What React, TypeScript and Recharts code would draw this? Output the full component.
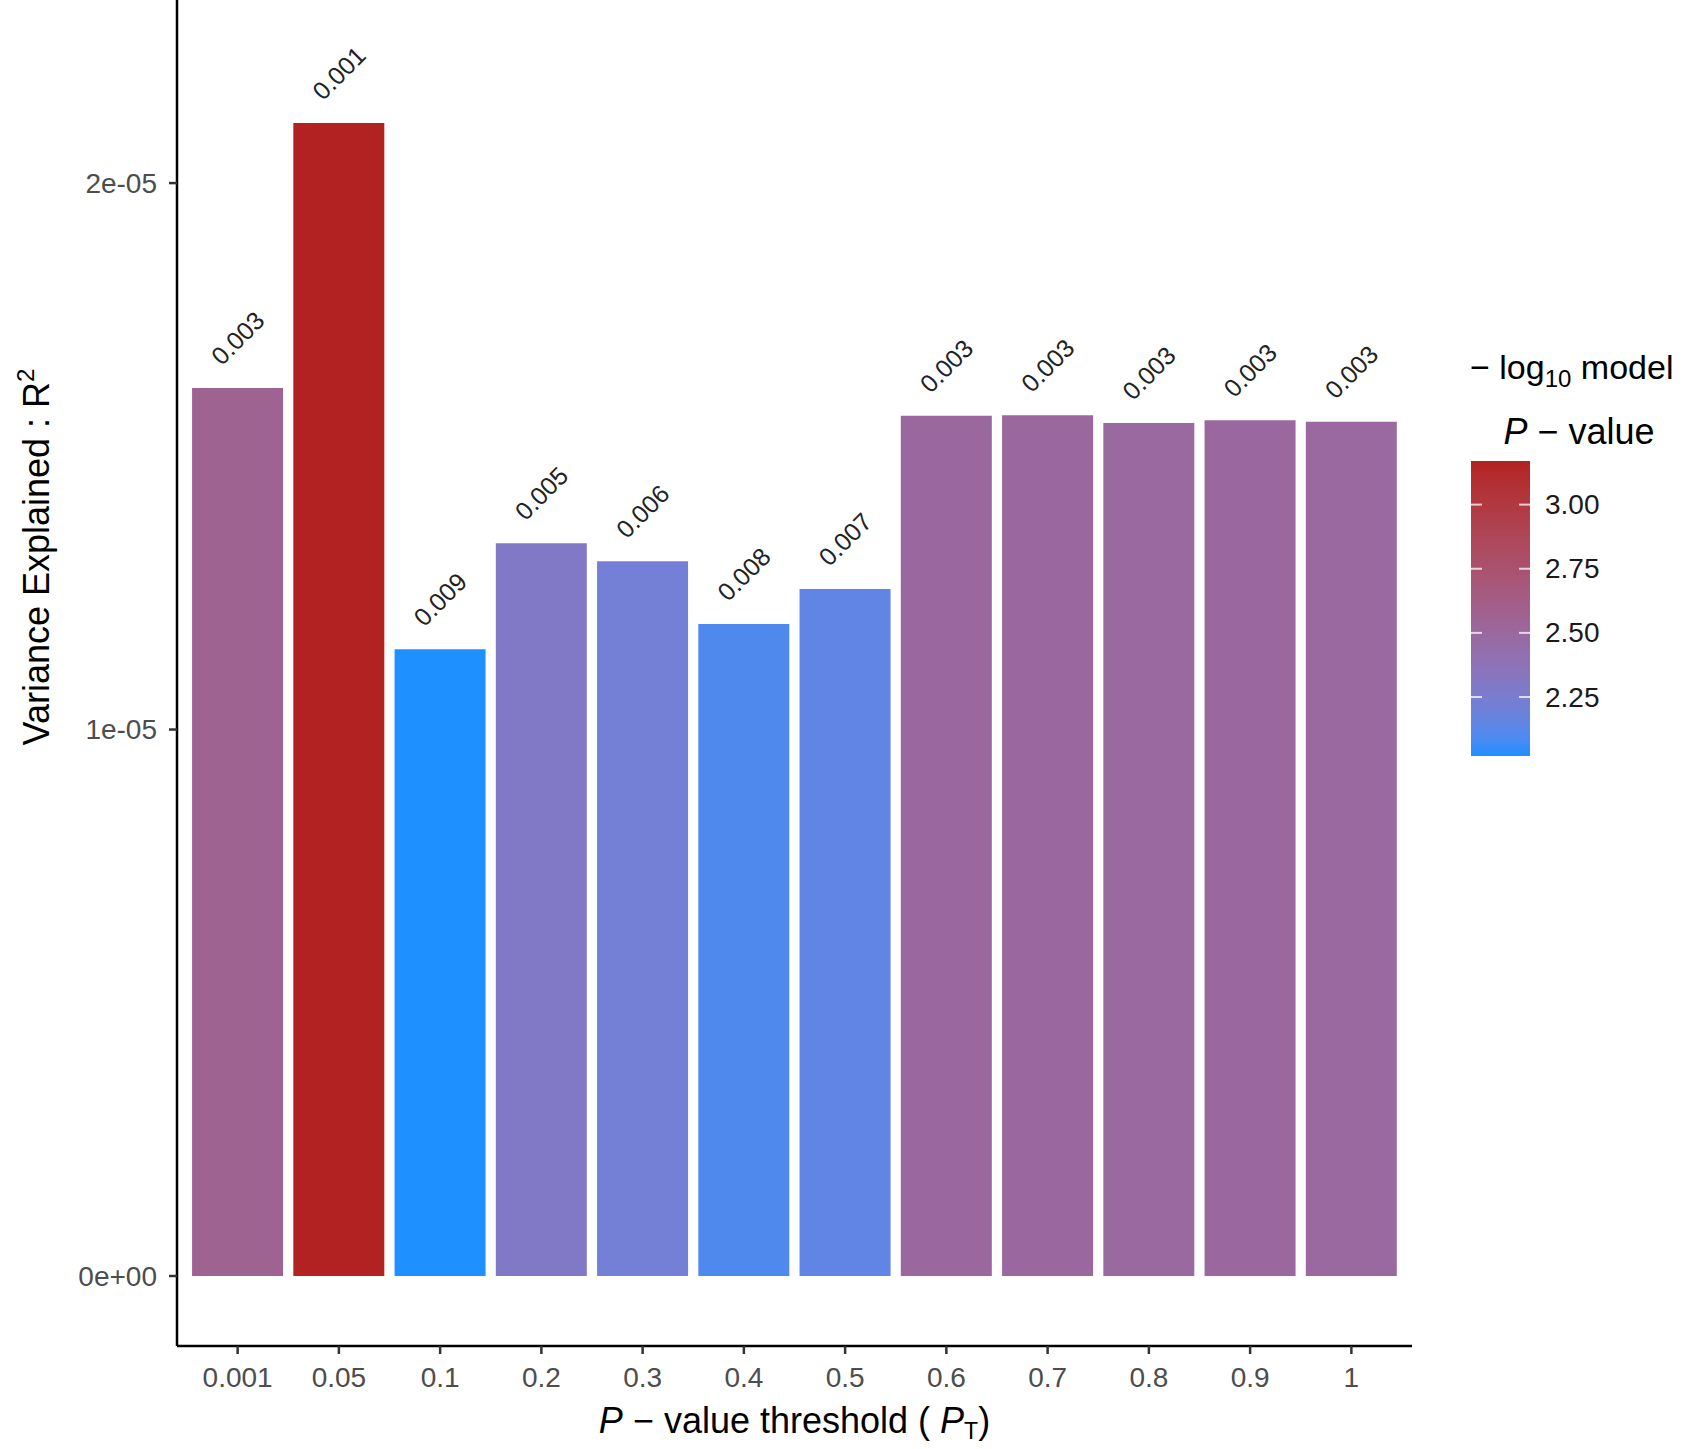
import React from "react";
import { Bar, BarChart, Cell, LabelList, XAxis, YAxis } from "recharts";

// P-value thresholds on the x axis
const thresholds = ["0.001", "0.05", "0.1", "0.2", "0.3", "0.4", "0.5", "0.6", "0.7", "0.8", "0.9", "1"];
// variance explained (R^2) per threshold
const r2Values = [1.625e-5, 2.11e-5, 1.147e-5, 1.341e-5, 1.308e-5, 1.193e-5, 1.257e-5, 1.574e-5, 1.575e-5, 1.561e-5, 1.566e-5, 1.563e-5];
// model P-value printed over each bar
const pLabels = ["0.003", "0.001", "0.009", "0.005", "0.006", "0.008", "0.007", "0.003", "0.003", "0.003", "0.003", "0.003"];
// -log10 model P-value, drives the fill colour
const logP = [2.56, 3.17, 2.02, 2.3, 2.22, 2.1, 2.15, 2.5, 2.5, 2.49, 2.5, 2.49];

const yTicks = [0, 1e-5, 2e-5];
const legendTicks = [2.25, 2.5, 2.75, 3.0];

const LOW = "#1E90FF"; // dodgerblue
const HIGH = "#B22222"; // firebrick
const FONT = '"Liberation Sans", Arial, Helvetica, sans-serif';

// ---- Lab colour ramp, same idea as ggplot's scale_fill_gradient ----
const WHITE = [0.95047, 1, 1.08883];
function hexToLab(hex: string) {
  const n = parseInt(hex.slice(1), 16);
  const rgb = [(n >> 16) & 255, (n >> 8) & 255, n & 255].map((c) => {
    const v = c / 255;
    return v <= 0.04045 ? v / 12.92 : Math.pow((v + 0.055) / 1.055, 2.4);
  });
  const [r, g, b] = rgb;
  const xyz = [
    (0.4124 * r + 0.3576 * g + 0.1805 * b) / WHITE[0],
    (0.2126 * r + 0.7152 * g + 0.0722 * b) / WHITE[1],
    (0.0193 * r + 0.1192 * g + 0.9505 * b) / WHITE[2],
  ];
  const f = (t: number) => (t > 0.008856 ? Math.cbrt(t) : 7.787 * t + 16 / 116);
  const [fx, fy, fz] = xyz.map(f);
  return [116 * fy - 16, 500 * (fx - fy), 200 * (fy - fz)];
}
function labToHex([L, a, bb]: number[]) {
  const fy = (L + 16) / 116;
  const fx = fy + a / 500;
  const fz = fy - bb / 200;
  const inv = (t: number) => (t * t * t > 0.008856 ? t * t * t : (t - 16 / 116) / 7.787);
  const X = inv(fx) * WHITE[0];
  const Y = inv(fy) * WHITE[1];
  const Z = inv(fz) * WHITE[2];
  const lin = [
    3.2406 * X - 1.5372 * Y - 0.4986 * Z,
    -0.9689 * X + 1.8758 * Y + 0.0415 * Z,
    0.0557 * X - 0.204 * Y + 1.057 * Z,
  ];
  return (
    "#" +
    lin
      .map((c) => {
        const v = c <= 0.0031308 ? 12.92 * c : 1.055 * Math.pow(c, 1 / 2.4) - 0.055;
        const k = Math.round(Math.min(1, Math.max(0, v)) * 255);
        return k.toString(16).padStart(2, "0");
      })
      .join("")
  );
}
const labLow = hexToLab(LOW);
const labHigh = hexToLab(HIGH);
const ramp = (t: number) => labToHex(labLow.map((v, i) => v + (labHigh[i] - v) * t));

const pMin = Math.min(...logP);
const pMax = Math.max(...logP);
const fillFor = (v: number) => ramp((v - pMin) / (pMax - pMin));

const data = thresholds.map((t, i) => ({
  threshold: t,
  r2: r2Values[i],
  label: pLabels[i],
  logp: logP[i],
}));

// 2e-05 style labels like R prints them
const sci = (v: number) => {
  if (v === 0) return "0e+00";
  const e = Math.floor(Math.log10(Math.abs(v)));
  const m = Math.round(v / Math.pow(10, e));
  const sign = e < 0 ? "-" : "+";
  return `${m}e${sign}${String(Math.abs(e)).padStart(2, "0")}`;
};

const BarLabel = (props: any) => {
  const cx = Number(props.x) + Number(props.width) / 2;
  const cy = Number(props.y) - 50;
  return (
    <text
      x={cx}
      y={cy}
      transform={`rotate(-45 ${cx} ${cy})`}
      textAnchor="middle"
      dominantBaseline="central"
      fontSize={25}
      fill="#222"
      fontFamily={FONT}
    >
      {props.value}
    </text>
  );
};

const XTitle = (props: any) => {
  const vb = props.viewBox;
  return (
    <text x={vb.x + vb.width / 2} y={vb.y + 87} textAnchor="middle" fontSize={36} fill="#000" fontFamily={FONT}>
      <tspan fontStyle="italic">P</tspan>
      {" \u2212 value threshold ( "}
      <tspan fontStyle="italic">P</tspan>
      <tspan dy={6} fontSize={23}>T</tspan>
      <tspan dy={-6}>)</tspan>
    </text>
  );
};

const YTitle = (props: any) => {
  const vb = props.viewBox;
  const x = vb.x + 36;
  const y = 557;
  return (
    <text
      x={x}
      y={y}
      transform={`rotate(-90 ${x} ${y})`}
      textAnchor="middle"
      dominantBaseline="central"
      fontSize={36}
      fill="#000"
      fontFamily={FONT}
    >
      Variance Explained : R
      <tspan dy="-0.45em" fontSize={24}>2</tspan>
    </text>
  );
};

function ColourLegend() {
  const top = 461;
  const bottom = 756;
  const left = 1471;
  const w = 59;
  const yOf = (v: number) => bottom - ((v - pMin) / (pMax - pMin)) * (bottom - top);
  const stops = Array.from({ length: 21 }, (_, i) => i / 20);
  return (
    <svg
      width={1688}
      height={1449}
      style={{ position: "absolute", left: 0, top: 0, pointerEvents: "none" }}
      fontFamily={FONT}
    >
      <defs>
        <linearGradient id="cbar" x1="0" y1="1" x2="0" y2="0">
          {stops.map((s) => (
            <stop key={s} offset={s} stopColor={ramp(s)} />
          ))}
        </linearGradient>
      </defs>
      <text x={1470} y={379} fontSize={34} fill="#000">
        {"\u2212 log"}
        <tspan dy={8} fontSize={24}>10</tspan>
        <tspan dy={-8}>{" model"}</tspan>
      </text>
      <text x={1579} y={444} textAnchor="middle" fontSize={36} fill="#000">
        <tspan fontStyle="italic">P</tspan>
        {" \u2212 value"}
      </text>
      <rect x={left} y={top} width={w} height={bottom - top} fill="url(#cbar)" />
      {legendTicks.map((t) => (
        <g key={t}>
          <line x1={left} x2={left + 11} y1={yOf(t)} y2={yOf(t)} stroke="#fff" strokeOpacity={0.75} strokeWidth={2} />
          <line x1={left + w - 11} x2={left + w} y1={yOf(t)} y2={yOf(t)} stroke="#fff" strokeOpacity={0.75} strokeWidth={2} />
          <text x={1545} y={yOf(t)} dominantBaseline="central" fontSize={28} fill="#1a1a1a">
            {t.toFixed(2)}
          </text>
        </g>
      ))}
    </svg>
  );
}

export default function App() {
  return (
    <div
      style={{
        position: "absolute",
        left: 0,
        top: 0,
        width: 1688,
        height: 1449,
        background: "#fff",
        fontFamily: FONT,
      }}
    >
      <BarChart
        width={1688}
        height={1449}
        data={data}
        margin={{ top: 0, right: 276, bottom: 0, left: 0 }}
        barCategoryGap="5%"
      >
        <XAxis
          dataKey="threshold"
          height={103}
          padding={{ left: 10, right: 10 }}
          axisLine={{ stroke: "#000", strokeWidth: 2.5 }}
          tickLine={{ stroke: "#333", strokeWidth: 2.5 }}
          tickSize={8}
          tickMargin={13}
          tick={{ fontSize: 28, fill: "#4d4d4d" }}
          interval={0}
          label={{ content: XTitle }}
        />
        <YAxis
          width={177}
          domain={[-1.281e-6, 2.335e-5]}
          allowDataOverflow
          ticks={yTicks}
          interval={0}
          tickFormatter={sci}
          axisLine={{ stroke: "#000", strokeWidth: 2.5 }}
          tickLine={{ stroke: "#333", strokeWidth: 2.5 }}
          tickSize={8}
          tickMargin={12}
          tick={{ fontSize: 28, fill: "#4d4d4d" }}
          label={{ content: YTitle }}
        />
        <Bar dataKey="r2" isAnimationActive={false}>
          {data.map((d, i) => (
            <Cell key={i} fill={fillFor(d.logp)} />
          ))}
          <LabelList dataKey="label" content={BarLabel} />
        </Bar>
      </BarChart>
      <ColourLegend />
    </div>
  );
}
